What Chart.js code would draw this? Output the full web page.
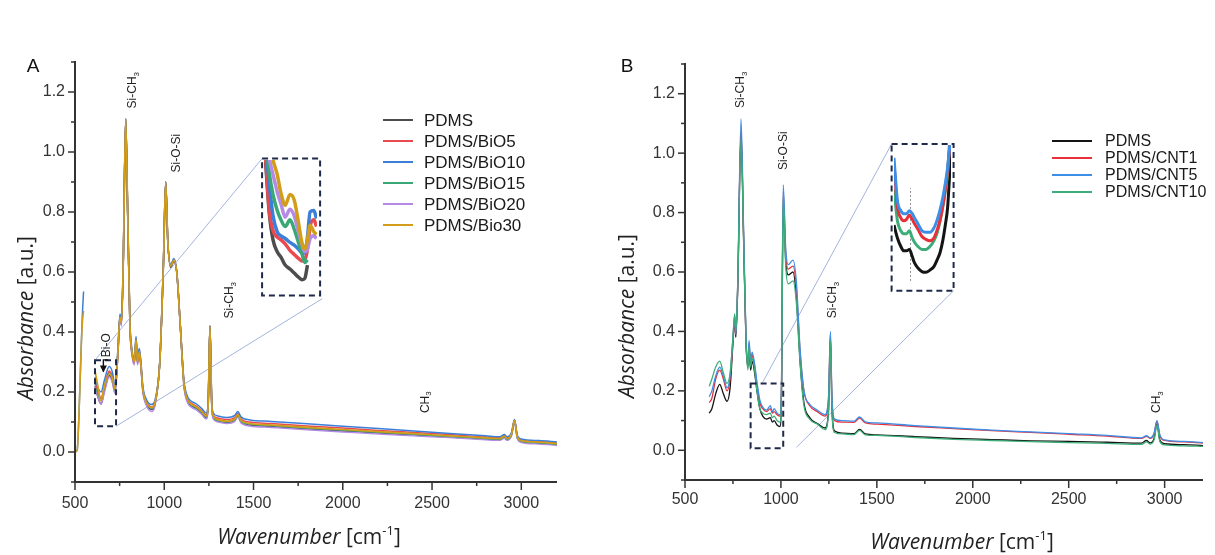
<!DOCTYPE html>
<html>
<head>
<meta charset="utf-8">
<script src="https://cdn.jsdelivr.net/npm/chart.js@4.4.1/dist/chart.umd.min.js"></script>
<style>
  body { margin: 0; background: #fff; }
  #wrap { position: relative; width: 1215px; height: 555px; overflow: hidden; }
  #wrap canvas { position: absolute; top: 0; }
</style>
</head>
<body>
<div id="wrap">
  <canvas id="chartA" width="607" height="555" style="left:0px"></canvas>
  <canvas id="chartB" width="608" height="555" style="left:607px"></canvas>
  <canvas id="insetA"></canvas>
  <canvas id="insetB"></canvas>
</div>
<script>
// ---- panel A : PDMS / BiO ----
const xTicks = [500, 1000, 1500, 2000, 2500, 3000]
const yTicks = [0.0, 0.2, 0.4, 0.6, 0.8, 1.0, 1.2]

const nombresA = ['PDMS', 'PDMS/BiO5', 'PDMS/BiO10', 'PDMS/BiO15', 'PDMS/BiO20', 'PDMS/Bio30']
const coloresA = ['#4d4d4d', '#ea4a4f', '#3b7fd9', '#3aa876', '#b48ae6', '#d29e1a']

const xA = [612, 625, 646, 665, 692, 710, 724, 740, 752, 760, 770, 784, 795, 808, 820, 832, 842, 850, 860, 868,
    880, 900, 930, 950, 975, 995, 1008, 1020, 1036, 1054, 1070, 1090, 1110, 1130, 1150, 1180, 1210, 1235, 1246, 1256,
    1266, 1275, 1300, 1350, 1395, 1412, 1430, 1480, 1600, 1800, 2000, 2200, 2400, 2600, 2800, 2880, 2905, 2920, 2945, 2962,
    2978, 3000, 3100, 3200]
const pdmsA = [0.22, 0.19, 0.16, 0.205, 0.255, 0.235, 0.20, 0.32, 0.45, 0.425, 0.62, 1.11, 0.80, 0.415, 0.325, 0.295, 0.37, 0.295, 0.33, 0.295,
    0.205, 0.16, 0.142, 0.165, 0.30, 0.62, 0.90, 0.70, 0.615, 0.635, 0.60, 0.42, 0.225, 0.17, 0.155, 0.145, 0.13, 0.115, 0.155, 0.42,
    0.155, 0.115, 0.103, 0.098, 0.105, 0.12, 0.10, 0.09, 0.085, 0.077, 0.07, 0.063, 0.056, 0.05, 0.043, 0.041, 0.048, 0.041, 0.056, 0.102,
    0.046, 0.034, 0.029, 0.024]
const bio5 = [0.24, 0.21, 0.18, 0.22, 0.27, 0.25, 0.21, 0.33, 0.455, 0.43, 0.62, 1.11, 0.80, 0.42, 0.33, 0.30, 0.38, 0.30, 0.34, 0.30,
    0.21, 0.168, 0.15, 0.17, 0.30, 0.62, 0.90, 0.70, 0.62, 0.64, 0.60, 0.42, 0.235, 0.178, 0.163, 0.153, 0.138, 0.123, 0.165, 0.42,
    0.165, 0.123, 0.113, 0.108, 0.115, 0.128, 0.11, 0.10, 0.095, 0.087, 0.08, 0.072, 0.065, 0.058, 0.05, 0.048, 0.055, 0.048, 0.062, 0.106,
    0.052, 0.04, 0.035, 0.03]
const bio10 = [0.25, 0.22, 0.20, 0.24, 0.285, 0.265, 0.22, 0.34, 0.46, 0.44, 0.62, 1.11, 0.80, 0.43, 0.34, 0.31, 0.385, 0.31, 0.345, 0.31,
    0.22, 0.175, 0.158, 0.178, 0.30, 0.62, 0.90, 0.70, 0.625, 0.645, 0.60, 0.42, 0.24, 0.185, 0.17, 0.16, 0.145, 0.13, 0.17, 0.42,
    0.17, 0.13, 0.12, 0.115, 0.122, 0.135, 0.117, 0.107, 0.102, 0.094, 0.086, 0.078, 0.07, 0.062, 0.054, 0.051, 0.058, 0.051, 0.065, 0.108,
    0.055, 0.043, 0.038, 0.033]
const bio15 = [0.23, 0.20, 0.175, 0.215, 0.265, 0.245, 0.205, 0.33, 0.45, 0.43, 0.62, 1.11, 0.80, 0.42, 0.33, 0.30, 0.375, 0.30, 0.335, 0.30,
    0.21, 0.165, 0.146, 0.168, 0.30, 0.62, 0.90, 0.70, 0.62, 0.64, 0.60, 0.42, 0.23, 0.175, 0.158, 0.148, 0.133, 0.118, 0.16, 0.42,
    0.16, 0.118, 0.106, 0.101, 0.108, 0.122, 0.103, 0.093, 0.088, 0.08, 0.073, 0.066, 0.059, 0.052, 0.045, 0.043, 0.05, 0.043, 0.058, 0.104,
    0.048, 0.036, 0.031, 0.026]
const bio20 = [0.22, 0.19, 0.16, 0.20, 0.25, 0.23, 0.195, 0.32, 0.445, 0.42, 0.62, 1.11, 0.80, 0.41, 0.32, 0.29, 0.365, 0.29, 0.325, 0.29,
    0.20, 0.155, 0.135, 0.16, 0.30, 0.62, 0.90, 0.70, 0.62, 0.64, 0.60, 0.42, 0.22, 0.165, 0.15, 0.14, 0.125, 0.11, 0.15, 0.42,
    0.15, 0.11, 0.10, 0.095, 0.102, 0.117, 0.097, 0.087, 0.082, 0.074, 0.067, 0.06, 0.054, 0.048, 0.041, 0.039, 0.046, 0.039, 0.054, 0.10,
    0.044, 0.032, 0.027, 0.022]
const bio30 = [0.27, 0.23, 0.17, 0.22, 0.26, 0.245, 0.21, 0.33, 0.45, 0.43, 0.62, 1.11, 0.80, 0.42, 0.33, 0.30, 0.375, 0.30, 0.335, 0.30,
    0.21, 0.165, 0.148, 0.17, 0.30, 0.62, 0.90, 0.70, 0.62, 0.64, 0.60, 0.42, 0.23, 0.175, 0.16, 0.15, 0.135, 0.12, 0.16, 0.42,
    0.16, 0.12, 0.108, 0.103, 0.11, 0.125, 0.105, 0.095, 0.09, 0.082, 0.075, 0.068, 0.061, 0.054, 0.047, 0.045, 0.052, 0.045, 0.06, 0.105,
    0.05, 0.038, 0.033, 0.028]

// short rising edge at the very start of panel A
const bordeAx = [500, 512, 522, 532, 540, 548]
const bordeAazul = [0.0, 0.005, 0.12, 0.30, 0.44, 0.535]
const bordeAnaranja = [0.0, 0.005, 0.12, 0.30, 0.42, 0.47]

// zoomed inset of the Bi-O region (relative units inside the box)
const insetAu = [0.03, 0.1, 0.17, 0.25, 0.32, 0.4, 0.49, 0.57, 0.65, 0.72, 0.77, 0.82, 0.87, 0.94, 0.99]
const insetPdmsA = [0.99, 0.60, 0.40, 0.31, 0.27, 0.21, 0.18, 0.15, 0.12, 0.10, 0.11, 0.21, null, null, null]
const insetBio5 = [1.02, 0.62, 0.47, 0.42, 0.40, 0.37, 0.32, 0.29, 0.26, 0.24, 0.25, 0.33, 0.50, 0.55, 0.50]
const insetBio10 = [1.1, 0.82, 0.58, 0.46, 0.43, 0.41, 0.38, 0.36, 0.33, 0.30, 0.30, 0.42, 0.61, 0.62, 0.56]
const insetBio15 = [1.15, 0.90, 0.74, 0.62, 0.55, 0.50, 0.55, 0.48, 0.38, 0.29, 0.23, 0.25, null, null, null]
const insetBio20 = [1.2, 1.01, 0.89, 0.76, 0.67, 0.57, 0.63, 0.58, 0.46, 0.36, 0.31, 0.33, 0.41, 0.43, 0.41]
const insetBio30 = [1.3, 1.15, 1.0, 0.89, 0.75, 0.66, 0.74, 0.70, 0.53, 0.37, 0.33, 0.40, 0.51, 0.46, 0.44]

// ---- panel B : PDMS / CNT ----
const nombresB = ['PDMS', 'PDMS/CNT1', 'PDMS/CNT5', 'PDMS/CNT10']
const coloresB = ['#141414', '#e8303a', '#3d8ee6', '#3cad78']

const xB = [626, 640, 660, 681, 700, 719, 735, 750, 759, 765, 775, 792, 805, 818, 828, 834, 842, 850, 863, 875,
    890, 905, 925, 945, 955, 965, 980, 995, 1003, 1012, 1025, 1038, 1063, 1080, 1100, 1120, 1150, 1190, 1230, 1248,
    1258, 1266, 1280, 1320, 1380, 1410, 1440, 1500, 1700, 1900, 2100, 2300, 2500, 2700, 2880, 2905, 2925, 2945, 2960, 2975,
    3000, 3100, 3200]
const pdmsB = [0.125, 0.14, 0.19, 0.222, 0.19, 0.165, 0.21, 0.36, 0.44, 0.38, 0.55, 1.07, 0.72, 0.36, 0.28, 0.34, 0.27, 0.30, 0.26, 0.20,
    0.14, 0.115, 0.105, 0.11, 0.095, 0.10, 0.085, 0.08, 0.20, 0.84, 0.64, 0.59, 0.60, 0.52, 0.30, 0.16, 0.11, 0.09, 0.075, 0.13,
    0.38, 0.14, 0.065, 0.058, 0.056, 0.07, 0.055, 0.052, 0.046, 0.04, 0.036, 0.032, 0.03, 0.027, 0.024, 0.033, 0.025, 0.04, 0.09, 0.035,
    0.022, 0.019, 0.016]
const cnt1 = [0.16, 0.175, 0.24, 0.27, 0.24, 0.20, 0.24, 0.37, 0.45, 0.39, 0.56, 1.08, 0.74, 0.37, 0.29, 0.36, 0.29, 0.32, 0.28, 0.22,
    0.16, 0.14, 0.13, 0.14, 0.125, 0.13, 0.12, 0.115, 0.22, 0.87, 0.66, 0.61, 0.62, 0.55, 0.33, 0.20, 0.15, 0.13, 0.115, 0.17,
    0.39, 0.17, 0.10, 0.095, 0.094, 0.108, 0.092, 0.088, 0.08, 0.073, 0.066, 0.06, 0.054, 0.048, 0.04, 0.047, 0.04, 0.055, 0.098, 0.05,
    0.033, 0.028, 0.024]
const cnt5 = [0.18, 0.20, 0.25, 0.28, 0.25, 0.21, 0.25, 0.38, 0.455, 0.39, 0.57, 1.115, 0.76, 0.38, 0.30, 0.37, 0.30, 0.33, 0.29, 0.23,
    0.17, 0.145, 0.135, 0.15, 0.13, 0.14, 0.125, 0.12, 0.23, 0.893, 0.68, 0.625, 0.64, 0.57, 0.34, 0.20, 0.155, 0.135, 0.12, 0.18,
    0.40, 0.18, 0.105, 0.10, 0.098, 0.112, 0.096, 0.092, 0.083, 0.075, 0.068, 0.062, 0.056, 0.05, 0.042, 0.049, 0.042, 0.058, 0.10, 0.052,
    0.035, 0.03, 0.026]
const cnt10 = [0.215, 0.24, 0.28, 0.30, 0.26, 0.225, 0.26, 0.38, 0.46, 0.40, 0.56, 1.05, 0.72, 0.37, 0.27, 0.35, 0.28, 0.31, 0.27, 0.20,
    0.14, 0.125, 0.12, 0.125, 0.11, 0.115, 0.10, 0.095, 0.20, 0.85, 0.62, 0.56, 0.57, 0.50, 0.29, 0.15, 0.105, 0.088, 0.07, 0.13,
    0.37, 0.13, 0.06, 0.055, 0.053, 0.067, 0.052, 0.05, 0.043, 0.037, 0.033, 0.029, 0.026, 0.023, 0.02, 0.028, 0.021, 0.035, 0.085, 0.03,
    0.018, 0.015, 0.013]

const insetBu = [0, 0.06, 0.12, 0.17, 0.22, 0.27, 0.32, 0.36, 0.42, 0.49, 0.56, 0.63, 0.7, 0.76, 0.81, 0.86, 0.9, 0.94, 0.97, 1]
const insetPdmsB = [0.44, 0.35, 0.29, 0.26, 0.26, 0.27, 0.22, 0.175, 0.14, 0.115, 0.11, 0.125, 0.15, 0.20, 0.25, 0.34, 0.44, 0.56, 0.75, 0.99]
const insetCnt1 = [0.87, 0.57, 0.49, 0.47, 0.48, 0.51, 0.48, 0.45, 0.41, 0.36, 0.34, 0.33, 0.35, 0.41, 0.48, 0.58, 0.69, 0.82, 0.95, 1.05]
const insetCnt5 = [0.91, 0.61, 0.54, 0.52, 0.52, 0.54, 0.52, 0.49, 0.45, 0.40, 0.39, 0.39, 0.42, 0.48, 0.55, 0.64, 0.73, 0.84, 0.96, 1.05]
const insetCnt10 = [0.69, 0.47, 0.40, 0.38, 0.38, 0.40, 0.35, 0.32, 0.29, 0.27, 0.27, 0.29, 0.33, 0.39, 0.47, 0.58, 0.68, 0.80, 0.99, 1.1]
const guiaBx = [0.29, 0.29]
const guiaBy = [0.05, 0.70]


const fuenteTicks = '"Liberation Sans", Arial, sans-serif'
const fuenteTitulo = '"Open Sans", "DejaVu Sans", sans-serif'

// note: chart.js paints dataset 0 last (on top), so lists below go top -> bottom
function serie(xs, ys, color, ancho) {
    return {
        data: xs.map((x, i) => ({ x: x, y: ys[i] })),
        borderColor: color,
        borderWidth: ancho,
        pointRadius: 0,
        fill: false,
        spanGaps: false,
        cubicInterpolationMode: 'monotone'
    }
}

// draws a run of text pieces centred at (x, y), optionally rotated
function textoPartes(ctx, x, y, partes, angulo) {
    ctx.save()
    ctx.translate(x, y)
    if (angulo) ctx.rotate(angulo)
    let total = 0
    partes.forEach(p => { ctx.font = p.font; p.w = ctx.measureText(p.t).width; total += p.w })
    let cx = -total / 2
    ctx.textAlign = 'left'
    ctx.textBaseline = 'middle'
    partes.forEach(p => { ctx.font = p.font; ctx.fillText(p.t, cx, p.dy || 0); cx += p.w })
    ctx.restore()
}

const decor = {
    id: 'decor',
    beforeDatasetsDraw(chart, args, o) {
        const ctx = chart.ctx, xs = chart.scales.x, ys = chart.scales.y
        ctx.save()
        ctx.strokeStyle = '#a3b3dc'
        ctx.lineWidth = 1
        o.conectores.forEach(c => {
            ctx.beginPath()
            ctx.moveTo(xs.getPixelForValue(c[0]), ys.getPixelForValue(c[1]))
            ctx.lineTo(xs.getPixelForValue(c[2]), ys.getPixelForValue(c[3]))
            ctx.stroke()
        })
        ctx.restore()
    },
    afterDatasetsDraw(chart, args, o) {
        const ctx = chart.ctx, xs = chart.scales.x, ys = chart.scales.y
        ctx.save()
        ctx.strokeStyle = '#1f2a4a'
        ctx.lineWidth = 2
        ctx.setLineDash([6, 4])
        o.cajas.forEach(c => {
            const l = xs.getPixelForValue(c[0]), r = xs.getPixelForValue(c[1])
            const t = ys.getPixelForValue(c[3]), b = ys.getPixelForValue(c[2])
            ctx.strokeRect(l, t, r - l, b - t)
        })
        ctx.restore()
    },
    afterDraw(chart, args, o) {
        const ctx = chart.ctx, xs = chart.scales.x, ys = chart.scales.y, a = chart.chartArea
        ctx.save()
        // axis lines + major / minor ticks
        ctx.strokeStyle = '#333'
        ctx.lineWidth = 2
        ctx.beginPath()
        ctx.moveTo(a.left, a.top - 1)
        ctx.lineTo(a.left, a.bottom)
        ctx.lineTo(a.right, a.bottom)
        ctx.stroke()
        ctx.lineWidth = 1.5
        const marcas = (vals, min, max) => {
            const h = (vals[1] - vals[0]) / 2
            return vals.map(v => v + h).concat([vals[0] - h]).filter(v => v >= min - 1e-9 && v <= max + 1e-9)
        }
        xTicks.forEach(v => {
            const p = xs.getPixelForValue(v)
            ctx.beginPath(); ctx.moveTo(p, a.bottom); ctx.lineTo(p, a.bottom + 8); ctx.stroke()
        })
        marcas(xTicks, xs.min, xs.max).forEach(v => {
            const p = xs.getPixelForValue(v)
            ctx.beginPath(); ctx.moveTo(p, a.bottom); ctx.lineTo(p, a.bottom + 4); ctx.stroke()
        })
        yTicks.forEach(v => {
            const p = ys.getPixelForValue(v)
            ctx.beginPath(); ctx.moveTo(a.left, p); ctx.lineTo(a.left - 7, p); ctx.stroke()
        })
        marcas(yTicks, ys.min, ys.max).forEach(v => {
            const p = ys.getPixelForValue(v)
            ctx.beginPath(); ctx.moveTo(a.left, p); ctx.lineTo(a.left - 4, p); ctx.stroke()
        })

        // peak labels
        ctx.fillStyle = '#222'
        o.etiquetas.forEach(e => {
            const partes = [{ t: e[0], font: '12px ' + fuenteTicks }]
            if (e[1]) partes.push({ t: e[1], font: '8px ' + fuenteTicks, dy: 4 })
            textoPartes(ctx, xs.getPixelForValue(e[2]), ys.getPixelForValue(e[3]), partes, -Math.PI / 2)
        })

        // arrow (Bi-O)
        if (o.flecha) {
            const pts = o.flecha.map(p => [xs.getPixelForValue(p[0]), ys.getPixelForValue(p[1])])
            ctx.strokeStyle = '#111'
            ctx.lineWidth = 1.4
            ctx.beginPath()
            pts.forEach((p, i) => i ? ctx.lineTo(p[0], p[1]) : ctx.moveTo(p[0], p[1]))
            ctx.stroke()
            const fin = pts[pts.length - 1]
            ctx.fillStyle = '#111'
            ctx.beginPath()
            ctx.moveTo(fin[0], fin[1] + 1)
            ctx.lineTo(fin[0] - 3.5, fin[1] - 6)
            ctx.lineTo(fin[0] + 3.5, fin[1] - 6)
            ctx.closePath()
            ctx.fill()
        }

        // legend
        const ley = o.leyenda
        ley.nombres.forEach((n, i) => {
            const y = ley.y + i * ley.dy
            ctx.strokeStyle = ley.colores[i]
            ctx.lineWidth = 2
            ctx.beginPath(); ctx.moveTo(ley.x0, y); ctx.lineTo(ley.x1, y); ctx.stroke()
            ctx.fillStyle = '#1a1a1a'
            ctx.font = ley.size + 'px ' + fuenteTicks
            ctx.textAlign = 'left'
            ctx.textBaseline = 'middle'
            ctx.fillText(n, ley.tx, y + 1)
        })

        // axis titles
        ctx.fillStyle = '#222'
        textoPartes(ctx, o.tituloY[0], o.tituloY[1], [
            { t: 'Absorbance', font: 'italic 21px ' + fuenteTitulo },
            { t: ' [a.u.]', font: '21px ' + fuenteTitulo }
        ], -Math.PI / 2)
        textoPartes(ctx, o.tituloX[0], o.tituloX[1], [
            { t: 'Wavenumber', font: 'italic 21px ' + fuenteTitulo },
            { t: ' [cm', font: '21px ' + fuenteTitulo },
            { t: '-1', font: '13px ' + fuenteTitulo, dy: -7 },
            { t: ']', font: '21px ' + fuenteTitulo }
        ])

        // panel letter
        ctx.fillStyle = '#111'
        ctx.font = '19px ' + fuenteTicks
        ctx.textAlign = 'center'
        ctx.textBaseline = 'middle'
        ctx.fillText(o.letra[0], o.letra[1], o.letra[2])
        ctx.restore()
    }
}

function opciones(pad, bajoX, extra) {
    return {
        responsive: false,
        animation: false,
        events: [],
        layout: { padding: pad },
        plugins: { legend: { display: false }, tooltip: { enabled: false }, decor: extra },
        scales: {
            x: {
                type: 'linear', min: 500, max: 3200,
                afterBuildTicks: s => { s.ticks = xTicks.map(v => ({ value: v })) },
                afterFit: s => { s.height = 40 },
                grid: { display: false, drawTicks: false },
                border: { display: false },
                ticks: { padding: bajoX, autoSkip: false, maxRotation: 0, color: '#333', font: { family: fuenteTicks, size: 16 }, callback: v => String(v) }
            },
            y: {
                type: 'linear', min: -0.1, max: 1.3,
                afterBuildTicks: s => { s.ticks = yTicks.map(v => ({ value: v })) },
                afterFit: s => { s.width = 50 },
                grid: { display: false, drawTicks: false },
                border: { display: false },
                ticks: { padding: 10, autoSkip: false, color: '#333', font: { family: fuenteTicks, size: 16 }, callback: v => v.toFixed(1) }
            }
        }
    }
}

// cajas: [x0, x1, y0, y1] in data units
const cajaChicaA = [612, 730, 0.086, 0.306]
const cajaInsetA = [1548, 1873, 0.522, 0.978]
const cajaChicaB = [842, 1012, 0.007, 0.225]
const cajaInsetB = [1577, 1900, 0.537, 1.031]

const chartA = new Chart(document.getElementById('chartA'), {
    type: 'line',
    data: {
        datasets: [
            serie(bordeAx, bordeAnaranja, coloresA[5], 1.6),
            serie(bordeAx, bordeAazul, coloresA[2], 1.5),
            serie(xA, bio30, coloresA[5], 1.7),
            serie(xA, bio10, coloresA[2], 1.5),
            serie(xA, bio5, coloresA[1], 1.5),
            serie(xA, bio15, coloresA[3], 1.5),
            serie(xA, bio20, coloresA[4], 1.5),
            serie(xA, pdmsA, coloresA[0], 1.5)
        ]
    },
    options: opciones({ left: 25, right: 50, top: 62, bottom: 33 }, 12, {
        cajas: [cajaChicaA, cajaInsetA],
        conectores: [[612, 0.306, 1548, 0.978], [730, 0.086, 1885, 0.511]],
        etiquetas: [['Si-CH', '3', 825, 1.206], ['Si-O-Si', '', 1072, 0.996], ['Si-CH', '3', 1369, 0.506],
            ['CH', '3', 2462, 0.166], ['Bi-O', '', 679, 0.356]],
        flecha: [[685, 0.307], [659, 0.307], [659, 0.268]],
        leyenda: { nombres: nombresA, colores: coloresA, x0: 383, x1: 413, tx: 424, y: 120, dy: 21, size: 17 },
        tituloY: [27, 318],
        tituloX: [309, 538],
        letra: ['A', 33, 67]
    }),
    plugins: [decor]
})

const chartB = new Chart(document.getElementById('chartB'), {
    type: 'line',
    data: {
        datasets: [
            serie(xB, cnt10, coloresB[3], 1.3),
            serie(xB, cnt5, coloresB[2], 1.3),
            serie(xB, cnt1, coloresB[1], 1.3),
            serie(xB, pdmsB, coloresB[0], 1.3)
        ]
    },
    options: opciones({ left: 28, right: 12, top: 64, bottom: 35 }, 10, {
        cajas: [cajaChicaB, cajaInsetB],
        conectores: [[905, 0.229, 1577, 1.031], [1081, 0.01, 1900, 0.537]],
        etiquetas: [['Si-CH', '3', 790, 1.213], ['Si-O-Si', '', 1013, 1.008], ['Si-CH', '3', 1268, 0.506],
            ['CH', '3', 2960, 0.162]],
        flecha: null,
        leyenda: { nombres: nombresB, colores: coloresB, x0: 445, x1: 485, tx: 498, y: 141, dy: 17, size: 16 },
        tituloY: [21, 316],
        tituloX: [355, 543],
        letra: ['B', 20, 67]
    }),
    plugins: [decor]
})

// inset charts sit on top of the dashed boxes
function ubicarInset(chart, offX, id, caja) {
    const xs = chart.scales.x, ys = chart.scales.y
    const l = xs.getPixelForValue(caja[0]), r = xs.getPixelForValue(caja[1])
    const t = ys.getPixelForValue(caja[3]), b = ys.getPixelForValue(caja[2])
    const cv = document.getElementById(id)
    cv.width = Math.round(r - l)
    cv.height = Math.round(b - t)
    cv.style.left = Math.round(offX + l) + 'px'
    cv.style.top = Math.round(t) + 'px'
    return cv
}

function opcionesInset() {
    return {
        responsive: false,
        animation: false,
        events: [],
        layout: { padding: { left: 2, right: 3, top: 1, bottom: 3 } },
        plugins: { legend: { display: false }, tooltip: { enabled: false } },
        scales: {
            x: { type: 'linear', min: 0, max: 1, display: false },
            y: { type: 'linear', min: 0, max: 1, display: false }
        }
    }
}

new Chart(ubicarInset(chartA, 0, 'insetA', cajaInsetA), {
    type: 'line',
    data: {
        datasets: [
            serie(insetAu, insetBio30, coloresA[5], 3.5),
            serie(insetAu, insetBio20, coloresA[4], 3.5),
            serie(insetAu, insetBio15, coloresA[3], 3.5),
            serie(insetAu, insetBio10, coloresA[2], 3.5),
            serie(insetAu, insetBio5, coloresA[1], 3.5),
            serie(insetAu, insetPdmsA, coloresA[0], 3.5)
        ]
    },
    options: opcionesInset()
})

const guia = serie(guiaBx, guiaBy, '#8a8a8a', 1)
guia.borderDash = [2, 2]
guia.cubicInterpolationMode = 'default'

new Chart(ubicarInset(chartB, 607, 'insetB', cajaInsetB), {
    type: 'line',
    data: {
        datasets: [
            serie(insetBu, insetCnt5, coloresB[2], 3),
            serie(insetBu, insetCnt1, coloresB[1], 3),
            serie(insetBu, insetCnt10, coloresB[3], 3),
            serie(insetBu, insetPdmsB, coloresB[0], 3),
            guia
        ]
    },
    options: opcionesInset()
})
</script>
</body>
</html>
